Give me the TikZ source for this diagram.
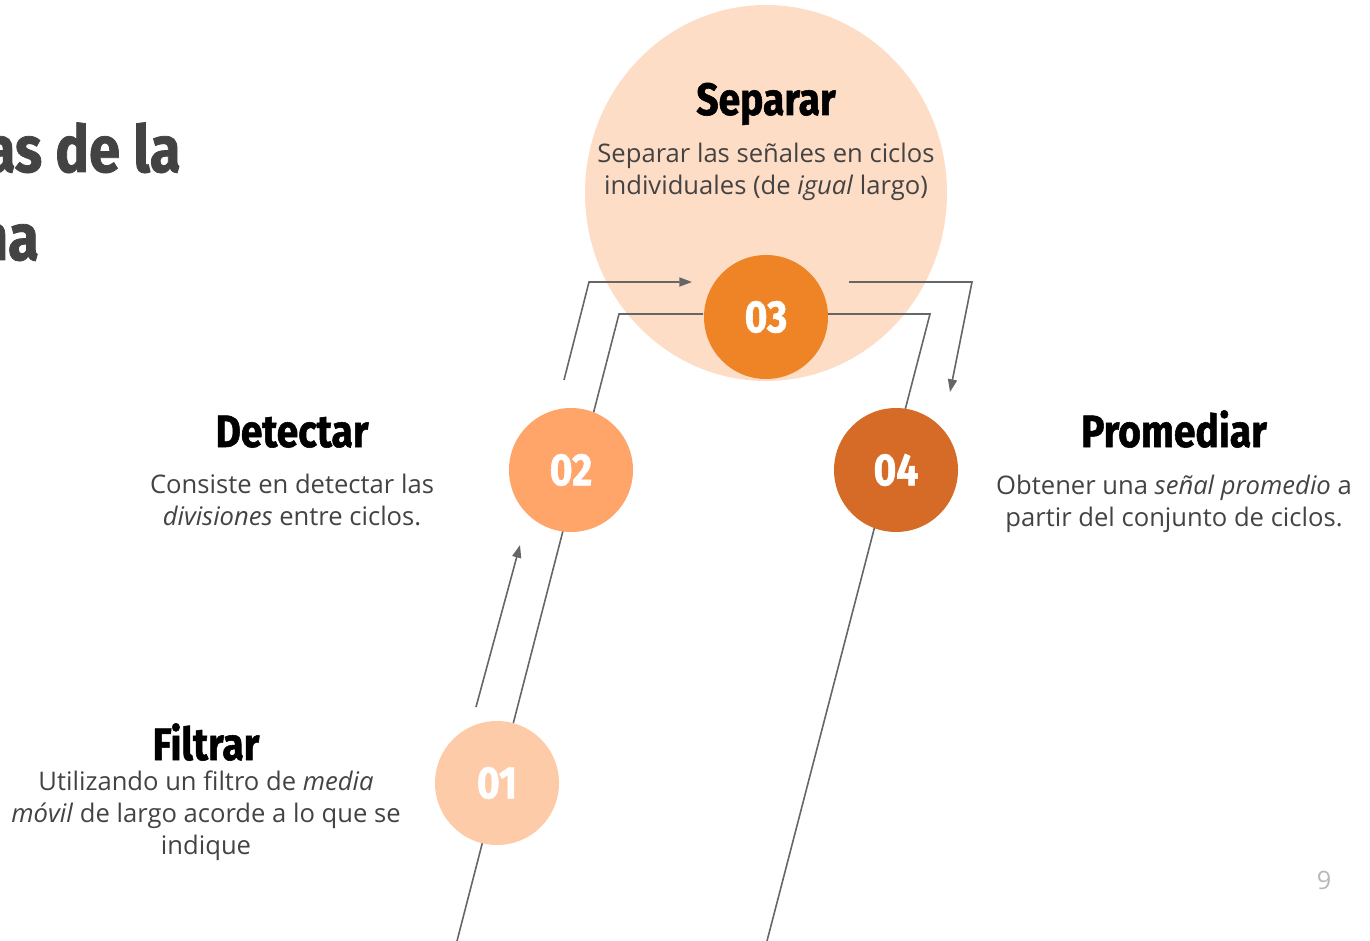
\documentclass[tikz,border=0pt]{standalone}
\usepackage{fontspec}
\setmainfont{Open Sans}
\newfontfamily\headfont[FakeStretch=0.86, BoldFeatures={FakeBold=1.2}]{Fira Sans}
\usetikzlibrary{arrows.meta, positioning}
\definecolor{bigpeach}{HTML}{FEDDC6}
\definecolor{stepA}{HTML}{FDCBA8}
\definecolor{stepB}{HTML}{FFA56A}
\definecolor{stepC}{HTML}{EF8427}
\definecolor{stepD}{HTML}{D66B27}
\definecolor{linegray}{HTML}{666666}
\definecolor{textgray}{HTML}{434343}
\tikzset{
  num/.style={circle, fill=#1, minimum size=93pt, inner sep=0pt, text=white,
    font=\headfont\bfseries\fontsize{34}{40}\selectfont},
  title/.style={anchor=base, font=\headfont\bfseries\fontsize{34}{40}\selectfont},
  body/.style={anchor=base, align=center, text=textgray,
    font=\fontsize{19.2}{24}\selectfont},
  link/.style={draw=linegray, line width=1.2pt},
  arrowlink/.style={link, -{Triangle[length=9.5pt, width=6.8pt]}}
}
\begin{document}
\begin{tikzpicture}[x=0.75pt, y=-0.75pt]
  \useasboundingbox (0, 0) rectangle (1370, 941);
  \clip (0, 0) rectangle (1370, 941);
  % big circle behind step 03
  \fill[bigpeach] (766, 193) ellipse (181 and 188);
  % slide title, cut at the left edge
  \node[anchor=base west, text=textgray, font=\headfont\bfseries\fontsize{49}{60}\selectfont] (head1) at (-20, 172) {as de la};
  \node[anchor=base west, text=textgray, font=\headfont\bfseries\fontsize{49}{60}\selectfont] (head2) at (-29, 260) {na};
  % lines behind the circles
  \coordinate (inL0) at (457, 941);
  \coordinate (inL1) at (619, 314);
  \coordinate (inR0) at (767, 941);
  \coordinate (inR1) at (930, 314);
  \coordinate (outL0) at (564, 380);
  \coordinate (outL1) at (589, 282);
  \coordinate (outL2) at (692, 282);
  \coordinate (outR0) at (849, 282);
  \coordinate (outR1) at (972, 282);
  \coordinate (outR2) at (950, 392);
  \coordinate (low0) at (476, 707);
  \coordinate (low1) at (520, 545);
  \draw[link] (inL0) -- (inL1) -- (703, 314);
  \draw[link] (inR0) -- (inR1) -- (828, 314);
  \draw[arrowlink] (outL0) -- (outL1) -- (outL2);
  \draw[arrowlink] (outR0) -- (outR1) -- (outR2);
  \draw[arrowlink] (low0) -- (low1);
  % steps
  \node[num=stepA] (n1) at (497, 783) {01};
  \node[num=stepB] (n2) at (571, 470) {02};
  \node[num=stepC] (n3) at (766, 317) {03};
  \node[num=stepD] (n4) at (896, 470) {04};
  % texts (body nodes sit on their last baseline)
  \node[title] (t3) at (766, 115) {Separar};
  \node[body] (b3) at (766, 195) {Separar las señales en ciclos\\individuales (de \textit{igual} largo)};
  \node[title] (t2) at (292, 447) {Detectar};
  \node[body] (b2) at (292, 525) {Consiste en detectar las\\\textit{divisiones} entre ciclos.};
  \node[title] (t4) at (1174, 447) {Promediar};
  \node[body] (b4) at (1174, 526) {Obtener una \textit{señal promedio} a\\partir del conjunto de ciclos.};
  \node[title] (t1) at (206, 760) {Filtrar};
  \node[body] (b1) at (206, 854) {Utilizando un filtro de \textit{media}\\\textit{móvil} de largo acorde a lo que se\\indique};
  \node[text=black!28, font=\fontsize{19}{24}\selectfont] (page) at (1324, 880) {9};
\end{tikzpicture}
\end{document}
